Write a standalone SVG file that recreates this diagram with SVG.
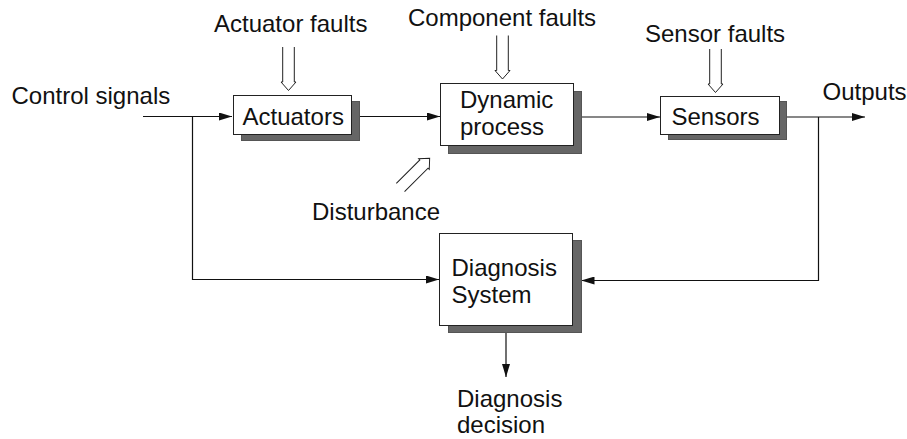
<svg xmlns="http://www.w3.org/2000/svg" width="907" height="439" viewBox="0 0 907 439">
<style>
text{font-family:"Liberation Sans",Arial,sans-serif;font-size:24px;fill:#111}
.box{fill:#fff;stroke:#222;stroke-width:1}
.shadow{fill:#666;stroke:#555;stroke-width:1}
.ln{fill:none;stroke:#111;stroke-width:1.2}
.dbl{fill:none;stroke:#222;stroke-width:1}
</style>
<defs>
<marker id="ah" markerWidth="13" markerHeight="8" refX="13" refY="4" orient="auto" markerUnits="userSpaceOnUse">
<path d="M0,0 L13,4 L0,8 Z" fill="#111"/>
</marker>
<path id="dblArrow" d="M-5.8,-44 V-9 H-7.5 L0,-0.5 L7.5,-9 H5.8 V-44"/>
</defs>
<rect width="907" height="439" fill="#fff"/>

<g id="connectors">
<polyline class="ln" points="143,116.5 232,116.5" marker-end="url(#ah)"/>
<polyline class="ln" points="192.5,116.5 192.5,279.5 439,279.5" marker-end="url(#ah)"/>
<polyline class="ln" points="359,116.5 440,116.5" marker-end="url(#ah)"/>
<polyline class="ln" points="581,117 660,117" marker-end="url(#ah)"/>
<polyline class="ln" points="787,117 865,117" marker-end="url(#ah)"/>
<polyline class="ln" points="818.5,117 818.5,280.5 581.5,280.5" marker-end="url(#ah)"/>
<polyline class="ln" points="506,326 506,377" marker-end="url(#ah)"/>
<use href="#dblArrow" class="dbl" transform="translate(288.5,91)"/>
<use href="#dblArrow" class="dbl" transform="translate(502.5,79.5)"/>
<use href="#dblArrow" class="dbl" transform="translate(715.5,93)"/>
<use href="#dblArrow" class="dbl" transform="translate(430,158) rotate(-135) scale(1,0.95)"/>
</g>

<g id="actuators">
<rect class="shadow" x="241.5" y="101.5" width="118" height="39"/>
<rect class="box" x="233.5" y="95.5" width="118" height="39"/>
<text x="242.5" y="125">Actuators</text>
</g>

<g id="dynamic-process">
<rect class="shadow" x="448.5" y="91.5" width="133" height="62"/>
<rect class="box" x="440.5" y="83.5" width="133" height="62"/>
<text x="460" y="107.5">Dynamic</text>
<text x="460" y="134.5">process</text>
</g>

<g id="sensors">
<rect class="shadow" x="668.5" y="101.5" width="118" height="38"/>
<rect class="box" x="660.5" y="96.5" width="119" height="38"/>
<text x="671.5" y="125">Sensors</text>
</g>

<g id="diagnosis-system">
<rect class="shadow" x="448.5" y="240.5" width="133" height="92"/>
<rect class="box" x="439.5" y="233.5" width="133" height="92"/>
<text x="451.5" y="275.5">Diagnosis</text>
<text x="451.5" y="303">System</text>
</g>

<g id="labels">
<text x="11.5" y="104">Control signals</text>
<text x="214" y="31.5">Actuator faults</text>
<text x="408" y="26">Component faults</text>
<text x="645" y="41.5">Sensor faults</text>
<text x="822.5" y="100">Outputs</text>
<text x="312" y="220">Disturbance</text>
<text x="457" y="407">Diagnosis</text>
<text x="457" y="433">decision</text>
</g>
</svg>
